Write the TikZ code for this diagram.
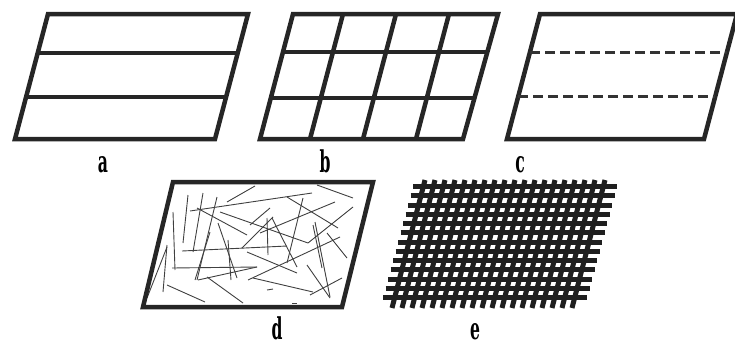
\documentclass[tikz,border=0pt]{standalone}
\usepackage{fontspec}
\newfontfamily\tagfont[FakeStretch=0.52]{DejaVu Serif}
\tikzset{
  panel/.style={line width=4.5pt, draw=black!85},
  fibre/.style={line width=0.9pt, draw=black!75},
  strand/.style={line width=5pt, draw=black!88},
  tag/.style={font=\fontsize{30}{30}\tagfont\bfseries, inner sep=0pt, anchor=base}
}
\begin{document}
\begin{tikzpicture}[x=1pt,y=-1pt]
\useasboundingbox (0,0) rectangle (735,343);
% a
\draw[panel] (48,14)--(248,14)--(215,139)--(15,139)--cycle;
\draw[panel] (37.7,53)--(237.7,53);
\draw[panel] (26.1,97)--(226.1,97);
\node[tag] (la) at (103,172) {a};
% b
\draw[panel] (293,14)--(498,14)--(463,139)--(260,139)--cycle;
\draw[panel] (283,52)--(488,52);
\draw[panel] (270.8,98)--(475.8,98);
\draw[panel] (343,14)--(310,139);
\draw[panel] (396,14)--(363,139);
\draw[panel] (449,14)--(416,139);
\node[tag] (lb) at (325,172) {b};
% c
\draw[panel] (540,14)--(737,14)--(704,139)--(507,139)--cycle;
\draw[line width=3pt, draw=black!80, dash pattern=on 10pt off 5pt] (530,52)--(727,52);
\draw[line width=3pt, draw=black!80, dash pattern=on 10pt off 5pt] (518.4,96)--(715.4,96);
\node[tag] (lc) at (520,172) {c};
% d
\draw[fibre] (190,211)--(312,193);
\draw[fibre] (227,202)--(255,186);
\draw[fibre] (317,185)--(353,198);
\draw[fibre] (220,212)--(308,243);
\draw[fibre] (197,208)--(247,235);
\draw[fibre] (353,207)--(308,243);
\draw[fibre] (242,248)--(273,217);
\draw[fibre] (267,218)--(268,255);
\draw[fibre] (272,218)--(297,267);
\draw[fibre] (303,198)--(287,263);
\draw[fibre] (182,251)--(287,246);
\draw[fibre] (248,280)--(340,237);
\draw[fibre] (315,222)--(330,297);
\draw[fibre] (327,233)--(347,258);
\draw[fibre] (307,265)--(330,298);
\draw[fibre] (310,295)--(342,278);
\draw[fibre] (253,278)--(313,292);
\draw[fibre] (247,252)--(297,273);
\draw[fibre] (172,268)--(257,267);
\draw[fibre] (198,280)--(257,267);
\draw[fibre] (207,277)--(243,303);
\draw[fibre] (167,285)--(205,302);
\draw[fibre] (147,298)--(167,247);
\draw[fibre] (163,292)--(167,245);
\draw[fibre] (173,212)--(175,270);
\draw[fibre] (188,195)--(183,243);
\draw[fibre] (203,193)--(193,252);
\draw[fibre] (217,197)--(197,280);
\draw[fibre] (210,232)--(195,280);
\draw[fibre] (218,223)--(237,278);
\draw[fibre] (228,240)--(231,280);
\draw[fibre] (267,290)--(273,289);
\draw[fibre] (292,303)--(297,303);
\draw[fibre] (287,197)--(338,228);
\draw[fibre] (335,202)--(260,233);
\draw[fibre] (270,208)--(250,225);
\draw[fibre] (313,225)--(322,268);
\draw[panel] (173,182)--(373,182)--(342,307)--(143,307)--cycle;
\node[tag] (ld) at (277,339) {d};
% e
\draw[strand] (425,180)--(392,308);
\draw[strand] (435,180)--(402,308);
\draw[strand] (445,180)--(412,308);
\draw[strand] (455,180)--(422,308);
\draw[strand] (465,180)--(432,308);
\draw[strand] (475,180)--(442,308);
\draw[strand] (485,180)--(452,308);
\draw[strand] (495,180)--(462,308);
\draw[strand] (505,180)--(472,308);
\draw[strand] (515,180)--(482,308);
\draw[strand] (525,180)--(492,308);
\draw[strand] (535,180)--(502,308);
\draw[strand] (545,180)--(512,308);
\draw[strand] (555,180)--(522,308);
\draw[strand] (565,180)--(532,308);
\draw[strand] (575,180)--(542,308);
\draw[strand] (585,180)--(552,308);
\draw[strand] (595,180)--(562,308);
\draw[strand] (605,180)--(572,308);
\draw[strand] (413,186.5)--(617,186.5);
\draw[strand] (410.5,195.75)--(614.5,195.75);
\draw[strand] (408,205)--(612,205);
\draw[strand] (405.5,214.25)--(609.5,214.25);
\draw[strand] (403,223.5)--(607,223.5);
\draw[strand] (400.5,232.75)--(604.5,232.75);
\draw[strand] (398,242)--(602,242);
\draw[strand] (395.5,251.25)--(599.5,251.25);
\draw[strand] (393,260.5)--(597,260.5);
\draw[strand] (390.5,269.75)--(594.5,269.75);
\draw[strand] (388,279)--(592,279);
\draw[strand] (385.5,288.25)--(589.5,288.25);
\draw[strand] (383,297.5)--(587,297.5);
\node[tag] (le) at (475,339) {e};
\end{tikzpicture}
\end{document}
